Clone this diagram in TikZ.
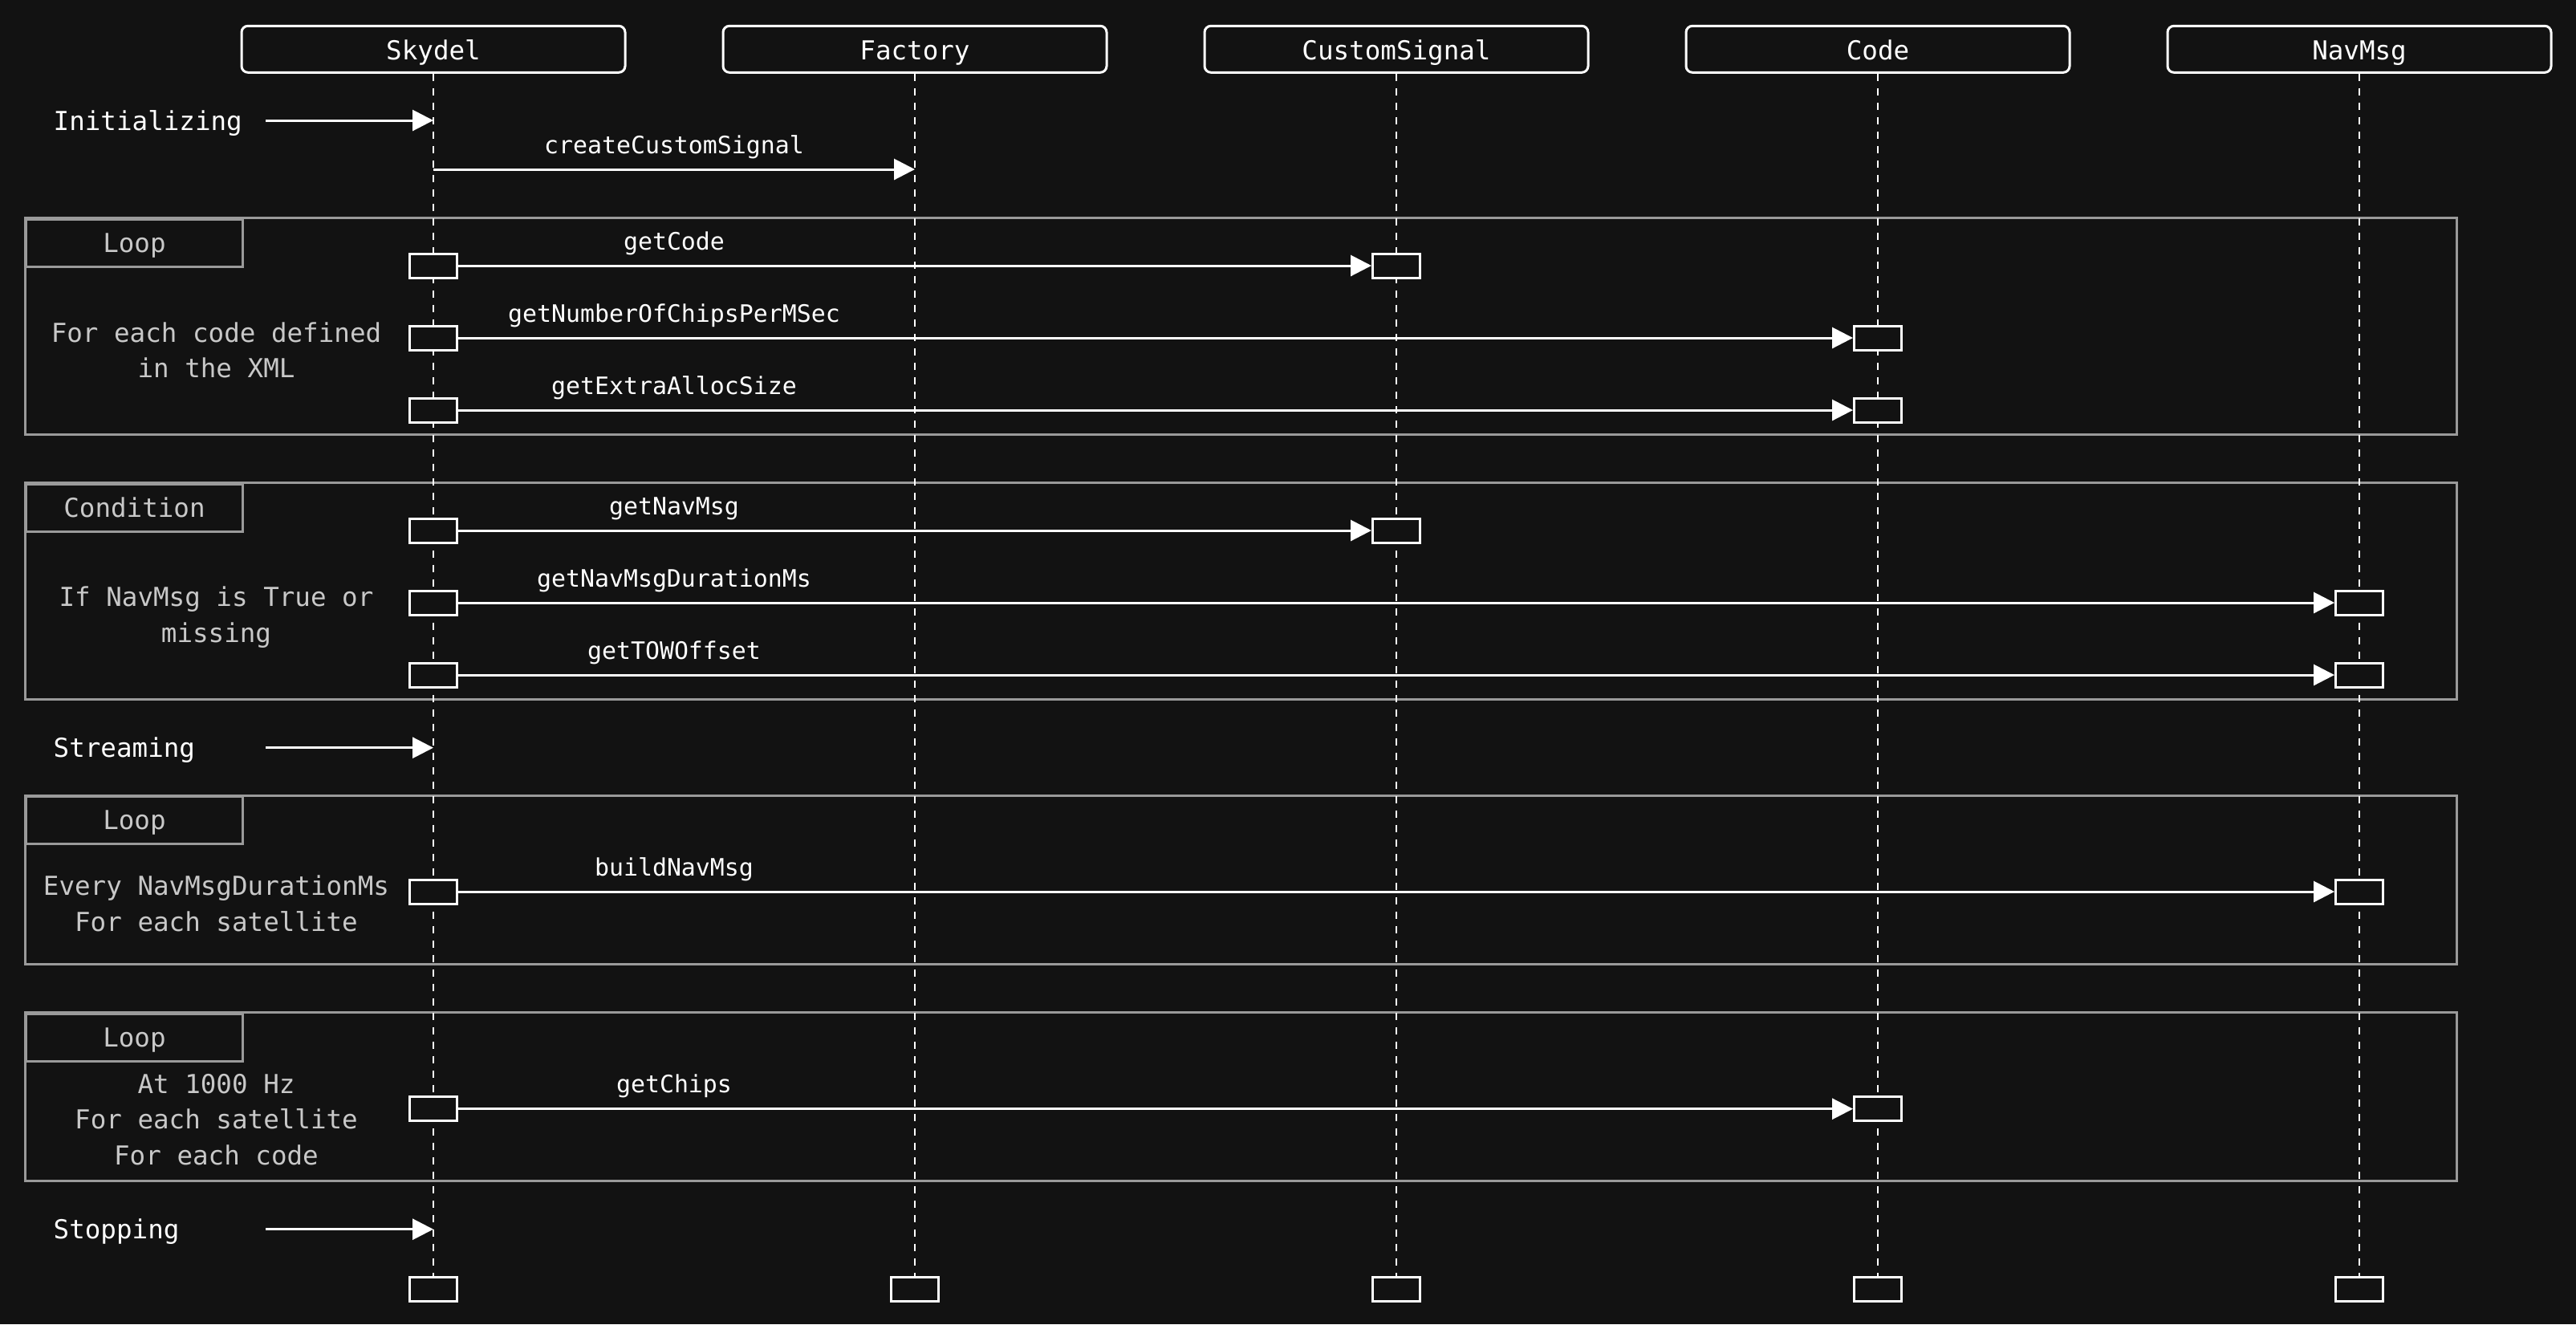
\documentclass[tikz,border=0pt]{standalone}
\usepackage{fontspec}
\setmonofont{DejaVu Sans Mono}
\usetikzlibrary{arrows.meta}
\definecolor{bg}{HTML}{121212}
\definecolor{framegray}{HTML}{9A9A9A}
\definecolor{notegray}{HTML}{C8C8C8}
\tikzset{
  actor/.style={draw=white, fill=bg, line width=0.03cm, rounded corners=0.08cm,
    minimum width=4.78cm, minimum height=0.58cm, text height=0.27cm, text depth=0cm,
    text=white, font=\ttfamily\fontsize{9.26}{11}\selectfont},
  actbox/.style={draw=white, fill=bg, line width=0.03cm, minimum width=0.59cm,
    minimum height=0.30cm, inner sep=0pt},
  lifeline/.style={draw=white, line width=0.025cm, dash pattern=on 0.09cm off 0.09cm},
  msg/.style={draw=white, line width=0.03cm, -{Triangle[length=0.26cm,width=0.26cm]}},
  msglabel/.style={text=white, anchor=base, inner sep=0pt, font=\ttfamily\fontsize{8.5}{10}\selectfont},
  phase/.style={text=white, anchor=base west, inner sep=0pt, font=\ttfamily\fontsize{9.26}{11}\selectfont},
  frame/.style={draw=framegray, line width=0.03cm},
  framelabel/.style={draw=framegray, line width=0.03cm, anchor=north west, minimum width=2.70cm,
    minimum height=0.59cm, text height=0.23cm, text depth=0cm, text=notegray,
    font=\ttfamily\fontsize{9.26}{11}\selectfont},
  note/.style={text=notegray, anchor=base, align=center, inner sep=0pt,
    font=\ttfamily\fontsize{9.26}{12.6}\selectfont}
}
\begin{document}
\begin{tikzpicture}
\fill[bg] (0,0) rectangle (32.10,-16.50);
\useasboundingbox (0,0) rectangle (32.10,-16.50);

% frames
\draw[frame] (0.31,-2.717) rectangle (30.61,-5.417);
\node[framelabel] (loopCode) at (0.31,-2.717) {Loop};
\node[note] (noteCode) at (2.695,-4.707) {For each code defined\\in the XML};
\draw[frame] (0.31,-6.017) rectangle (30.61,-8.71);
\node[framelabel] (condNav) at (0.31,-6.017) {Condition};
\node[note] (noteNav) at (2.695,-8.00) {If NavMsg is True or\\missing};
\draw[frame] (0.31,-9.91) rectangle (30.61,-12.01);
\node[framelabel] (loopStream) at (0.31,-9.91) {Loop};
\node[note] (noteStream) at (2.695,-11.60) {Every NavMsgDurationMs\\For each satellite};
\draw[frame] (0.31,-12.617) rectangle (30.61,-14.717);
\node[framelabel] (loopChips) at (0.31,-12.617) {Loop};
\node[note] (noteChips) at (2.695,-14.51) {At 1000 Hz\\For each satellite\\For each code};

% participants
\node[actor] (skydel) at (5.40,-0.613) {Skydel};
\node[actor] (factory) at (11.40,-0.613) {Factory};
\node[actor] (signal) at (17.40,-0.613) {CustomSignal};
\node[actor] (code) at (23.40,-0.613) {Code};
\node[actor] (navmsg) at (29.40,-0.613) {NavMsg};
\node[actbox] (skydelEnd) at (5.40,-16.065) {};
\node[actbox] (factoryEnd) at (11.40,-16.065) {};
\node[actbox] (signalEnd) at (17.40,-16.065) {};
\node[actbox] (codeEnd) at (23.40,-16.065) {};
\node[actbox] (navmsgEnd) at (29.40,-16.065) {};

% lifelines
\draw[lifeline] (skydel.south) -- (skydelEnd.north);
\draw[lifeline] (factory.south) -- (factoryEnd.north);
\draw[lifeline] (signal.south) -- (signalEnd.north);
\draw[lifeline] (code.south) -- (codeEnd.north);
\draw[lifeline] (navmsg.south) -- (navmsgEnd.north);

% phases
\node[phase] (initLabel) at (0.66,-1.62) {Initializing};
\coordinate (initFrom) at (3.31,-1.50);
\coordinate (initTo) at (5.40,-1.50);
\draw[msg] (initFrom) -- (initTo);
\node[phase] (streamLabel) at (0.66,-9.43) {Streaming};
\coordinate (streamFrom) at (3.31,-9.317);
\coordinate (streamTo) at (5.40,-9.317);
\draw[msg] (streamFrom) -- (streamTo);
\node[phase] (stopLabel) at (0.66,-15.43) {Stopping};
\coordinate (stopFrom) at (3.31,-15.317);
\coordinate (stopTo) at (5.40,-15.317);
\draw[msg] (stopFrom) -- (stopTo);

% messages
\coordinate (createFrom) at (5.40,-2.11);
\coordinate (createTo) at (11.40,-2.11);
\draw[msg] (createFrom) -- (createTo);
\node[msglabel] at (8.40,-1.91) {createCustomSignal};

\node[actbox] (getCodeS) at (5.40,-3.31) {};
\node[actbox] (getCodeT) at (17.40,-3.31) {};
\draw[msg] (getCodeS) -- (getCodeT);
\node[msglabel] at (8.40,-3.11) {getCode};

\node[actbox] (chipsRateS) at (5.40,-4.21) {};
\node[actbox] (chipsRateT) at (23.40,-4.21) {};
\draw[msg] (chipsRateS) -- (chipsRateT);
\node[msglabel] at (8.40,-4.01) {getNumberOfChipsPerMSec};

\node[actbox] (allocS) at (5.40,-5.11) {};
\node[actbox] (allocT) at (23.40,-5.11) {};
\draw[msg] (allocS) -- (allocT);
\node[msglabel] at (8.40,-4.91) {getExtraAllocSize};

\node[actbox] (navS) at (5.40,-6.61) {};
\node[actbox] (navT) at (17.40,-6.61) {};
\draw[msg] (navS) -- (navT);
\node[msglabel] at (8.40,-6.41) {getNavMsg};

\node[actbox] (durS) at (5.40,-7.51) {};
\node[actbox] (durT) at (29.40,-7.51) {};
\draw[msg] (durS) -- (durT);
\node[msglabel] at (8.40,-7.31) {getNavMsgDurationMs};

\node[actbox] (towS) at (5.40,-8.41) {};
\node[actbox] (towT) at (29.40,-8.41) {};
\draw[msg] (towS) -- (towT);
\node[msglabel] at (8.40,-8.21) {getTOWOffset};

\node[actbox] (buildS) at (5.40,-11.11) {};
\node[actbox] (buildT) at (29.40,-11.11) {};
\draw[msg] (buildS) -- (buildT);
\node[msglabel] at (8.40,-10.91) {buildNavMsg};

\node[actbox] (getChipsS) at (5.40,-13.817) {};
\node[actbox] (getChipsT) at (23.40,-13.817) {};
\draw[msg] (getChipsS) -- (getChipsT);
\node[msglabel] at (8.40,-13.617) {getChips};
\end{tikzpicture}
\end{document}
